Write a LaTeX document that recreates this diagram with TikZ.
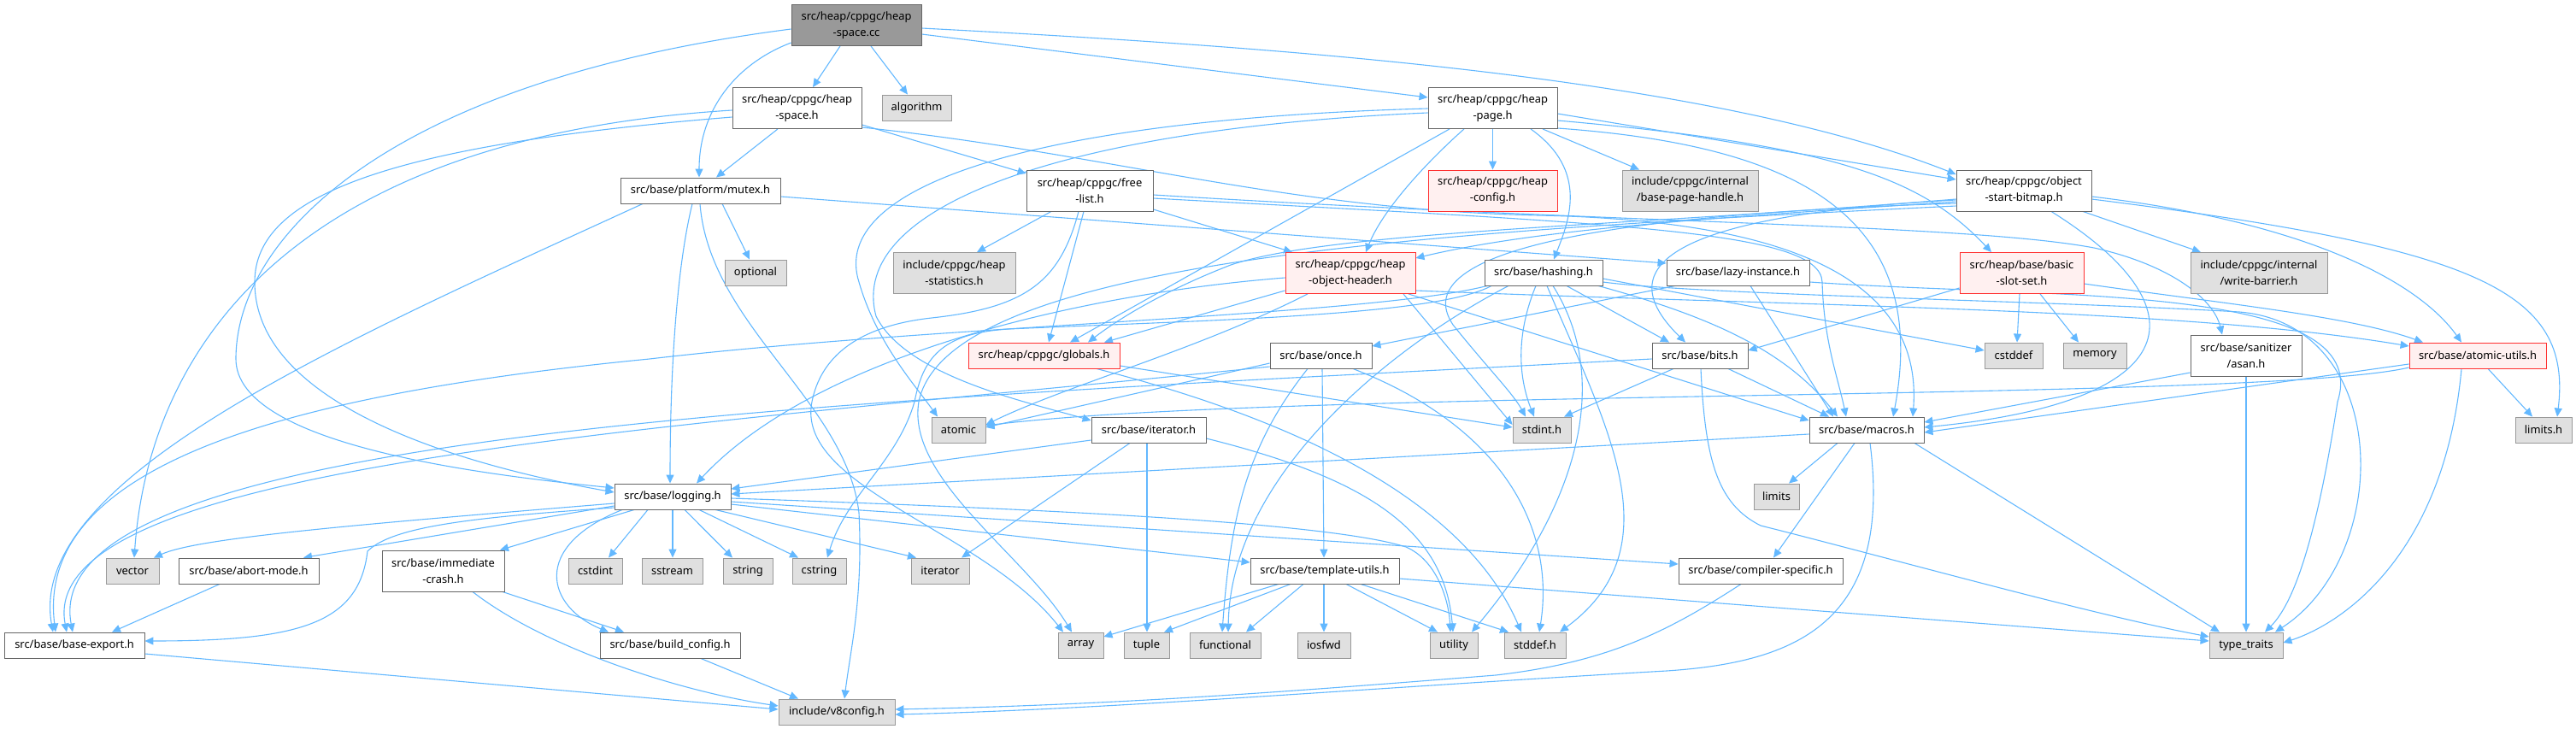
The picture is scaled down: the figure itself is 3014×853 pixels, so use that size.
\documentclass[tikz,border=0pt]{standalone}
\usepackage{fontspec}
\setmainfont{Noto Sans}
\usetikzlibrary{arrows.meta}
\definecolor{edgeblue}{HTML}{63B8FF}
\definecolor{boxline}{HTML}{666666}
\definecolor{sysline}{HTML}{999999}
\definecolor{sysfill}{HTML}{E0E0E0}
\definecolor{cutline}{HTML}{FF3030}
\definecolor{cutfill}{HTML}{FFF0F0}
\definecolor{rootfill}{HTML}{999999}
\pgfdeclarelayer{edges}
\pgfsetlayers{edges,main}
\tikzset{
  hdr/.style={draw=boxline, fill=white, line width=0.9pt, inner sep=0pt,
    minimum height=30pt, align=center, font=\fontsize{12.9}{19}\selectfont},
  two/.style={minimum height=48pt},
  sys/.style={hdr, draw=sysline, fill=sysfill},
  cut/.style={hdr, draw=cutline, fill=cutfill},
  root/.style={hdr, fill=rootfill},
  inc/.style={draw=edgeblue, line width=1.1pt, -{Triangle[length=10pt,width=9pt]}},
}

\begin{document}
\begin{tikzpicture}[x=1pt,y=-1pt]
\useasboundingbox (0,0) rectangle (3014,853);
%
\node[root, two, minimum width=152] (cc) at (1002,29.5) {src/heap/cppgc/heap\\-space.cc};
%
\node[hdr, two, minimum width=151] (hsh) at (932.5,126.5) {src/heap/cppgc/heap\\-space.h};
\node[sys, minimum width=81] (alg) at (1072.5,126) {algorithm};
\node[hdr, two, minimum width=151] (hpg) at (1746.5,126.5) {src/heap/cppgc/heap\\-page.h};
%
\node[hdr, minimum width=187] (mtx) at (819.5,223) {src/base/platform/mutex.h};
\node[hdr, two, minimum width=148] (fl) at (1275,223) {src/heap/cppgc/free\\-list.h};
\node[cut, two, minimum width=151] (hcf) at (1746.5,223) {src/heap/cppgc/heap\\-config.h};
\node[sys, two, minimum width=159] (bph) at (1977.5,223) {include/cppgc/internal\\/base-page-handle.h};
\node[hdr, two, minimum width=158] (osb) at (2368,223) {src/heap/cppgc/object\\-start-bitmap.h};
%
\node[sys, minimum width=72] (opt) at (884,319) {optional};
\node[sys, two, minimum width=143] (hst) at (1116.5,319.5) {include/cppgc/heap\\-statistics.h};
\node[cut, two, minimum width=152] (ohd) at (1580,319.5) {src/heap/cppgc/heap\\-object-header.h};
\node[hdr, minimum width=138] (hsg) at (1806,319) {src/base/hashing.h};
\node[hdr, minimum width=167] (lzy) at (2033.5,319) {src/base/lazy-instance.h};
\node[cut, two, minimum width=145] (bss) at (2365.5,319.5) {src/heap/base/basic\\-slot-set.h};
\node[sys, two, minimum width=160] (wb) at (2643,319.5) {include/cppgc/internal\\/write-barrier.h};
%
\node[cut, minimum width=177] (glb) at (1221.5,416) {src/heap/cppgc/globals.h};
\node[hdr, minimum width=119] (once) at (1545.5,416) {src/base/once.h};
\node[hdr, minimum width=112] (bits) at (1989,416) {src/base/bits.h};
\node[sys, minimum width=68] (cstddef) at (2356,416) {cstddef};
\node[sys, minimum width=74] (memory) at (2451,416) {memory};
\node[hdr, two, minimum width=130] (asan) at (2628,416) {src/base/sanitizer\\/asan.h};
\node[cut, minimum width=160] (atu) at (2899,416) {src/base/atomic-utils.h};
%
\node[sys, minimum width=63] (atomic) at (1121.5,503) {atomic};
\node[hdr, minimum width=134] (ith) at (1344,503) {src/base/iterator.h};
\node[sys, minimum width=68] (stdint) at (1804,503) {stdint.h};
\node[hdr, minimum width=134] (mac) at (2184,503) {src/base/macros.h};
\node[sys, minimum width=66] (limh) at (2976,503) {limits.h};
%
\node[hdr, minimum width=136] (log) at (787,581) {src/base/logging.h};
\node[sys, minimum width=53] (lim) at (2078.5,581) {limits};
%
\node[sys, minimum width=62] (vec) at (155,668) {vector};
\node[hdr, minimum width=164] (abm) at (291,668) {src/base/abort-mode.h};
\node[hdr, two, minimum width=143] (imc) at (518.5,668) {src/base/immediate\\-crash.h};
\node[sys, minimum width=63] (cstdint) at (696.5,668) {cstdint};
\node[sys, minimum width=71] (sstream) at (786.5,668) {sstream};
\node[sys, minimum width=58] (string) at (875,668) {string};
\node[sys, minimum width=63] (cstring) at (958.5,668) {cstring};
\node[sys, minimum width=68] (iter) at (1100,668) {iterator};
\node[hdr, minimum width=174] (tpl) at (1550,668) {src/base/template-utils.h};
\node[hdr, minimum width=192] (csp) at (2060,668) {src/base/compiler-specific.h};
%
\node[hdr, minimum width=164] (bex) at (87,755) {src/base/base-export.h};
\node[hdr, minimum width=164] (bcf) at (784,755) {src/base/build\_config.h};
\node[sys, minimum width=53] (arr) at (1264.5,755) {array};
\node[sys, minimum width=53] (tup) at (1341.5,755) {tuple};
\node[sys, minimum width=83] (fun) at (1433.5,755) {functional};
\node[sys, minimum width=62] (iosfwd) at (1549,755) {iosfwd};
\node[sys, minimum width=56] (util) at (1701,755) {utility};
\node[sys, minimum width=72] (stddef) at (1796,755) {stddef.h};
\node[sys, minimum width=86] (tt) at (2628,755) {type\_traits};
%
\node[sys, minimum width=136] (v8c) at (979,833) {include/v8config.h};
%
\begin{pgfonlayer}{edges}
% heap-space.cc
\draw[inc] (cc.south -| 983,0) -- (hsh.north -| 951,0);
\draw[inc] (cc.south -| 1019,0) -- (alg.north -| 1062,0);
\draw[inc] (cc.west |- 0,50) .. controls (860,75) and (818,130) .. (mtx.north -| 818,0);
\draw[inc] (cc.west |- 0,34) .. controls (450,95) and (276,280) .. (276,420) .. controls (276,520) and (560,555) .. (log.west |- 0,571);
\draw[inc] (cc.east |- 0,40) -- (hpg.west |- 0,114);
\draw[inc] (cc.east |- 0,33) .. controls (1500,55) and (2000,90) .. (osb.west |- 0,204);
% heap-space.h
\draw[inc] (hsh.south -| 910,0) -- (mtx.north -| 838,0);
\draw[inc] (hsh.east |- 0,146) -- (fl.west |- 0,203);
\draw[inc] (hsh.east |- 0,149) .. controls (1300,180) and (1500,245) .. (1800,252) .. controls (2100,258) and (2250,330) .. (mac.north -| 2238,0);
\draw[inc] (hsh.west |- 0,137) .. controls (450,170) and (298,230) .. (298,330) .. controls (298,480) and (560,548) .. (log.west |- 0,576);
\draw[inc] (hsh.west |- 0,129) .. controls (350,160) and (175,400) .. (vec.north -| 157,0);
% mutex.h
\draw[inc] (mtx.south -| 845,0) -- (opt.north -| 877,0);
\draw[inc] (mtx.south -| 810,0) .. controls (790,320) and (784,450) .. (log.north -| 784,0);
\draw[inc] (mtx.south -| 819,0) .. controls (830,380) and (990,470) .. (1005,600) .. controls (1010,700) and (995,760) .. (v8c.north -| 988,0);
\draw[inc] (mtx.south -| 752,0) .. controls (400,400) and (30,560) .. (bex.north -| 62,0);
\draw[inc] (mtx.east |- 0,230) -- (lzy.west |- 0,308);
% free-list.h
\draw[inc] (fl.south -| 1230,0) -- (hst.north -| 1143,0);
\draw[inc] (fl.south -| 1268,0) -- (glb.north -| 1227,0);
\draw[inc] (fl.south -| 1262,0) .. controls (1240,330) and (1200,360) .. (1090,372) .. controls (1000,382) and (960,420) .. (950,470) .. controls (930,570) and (1150,620) .. (arr.north -| 1244,0);
\draw[inc] (fl.east |- 0,245) -- (ohd.north -| 1512,0);
\draw[inc] (fl.east |- 0,232) .. controls (1900,262) and (2130,270) .. (2132,330) .. controls (2134,400) and (2150,440) .. (mac.north -| 2160,0);
\draw[inc] (fl.east |- 0,228) .. controls (1900,262) and (2300,262) .. (2450,290) .. controls (2540,310) and (2590,350) .. (asan.north -| 2600,0);
% heap-page.h
\draw[inc] (hpg.south) -- (hcf.north);
\draw[inc] (hpg.south -| 1805,0) -- (bph.north -| 1918,0);
\draw[inc] (hpg.south -| 1791,0) .. controls (1860,200) and (1835,260) .. (hsg.north -| 1818,0);
\draw[inc] (hpg.south -| 1713,0) .. controls (1680,180) and (1620,240) .. (ohd.north -| 1598,0);
\draw[inc] (hpg.south -| 1696,0) -- (glb.north -| 1252,0);
\draw[inc] (hpg.west |- 0,127) .. controls (1200,140) and (970,220) .. (1005,330) .. controls (1025,400) and (1070,450) .. (atomic.north -| 1097,0);
\draw[inc] (hpg.west |- 0,132) .. controls (1250,150) and (990,240) .. (1025,370) .. controls (1060,440) and (1200,470) .. (ith.west |- 0,492);
\draw[inc] (hpg.east |- 0,150) .. controls (2100,170) and (2260,250) .. (mac.north -| 2215,0);
\draw[inc] (hpg.east |- 0,141) .. controls (2150,170) and (2250,210) .. (bss.north -| 2330,0);
\draw[inc] (hpg.east |- 0,133) -- (osb.west |- 0,210);
% object-start-bitmap.h
\draw[inc] (osb.west |- 0,236) .. controls (2000,255) and (1800,268) .. (ohd.east |- 0,302);
\draw[inc] (osb.west |- 0,233) .. controls (1900,265) and (1560,270) .. (1440,310) .. controls (1350,345) and (1300,380) .. (glb.north -| 1273,0);
\draw[inc] (osb.west |- 0,238) .. controls (1900,250) and (1640,290) .. (1700,380) .. controls (1740,430) and (1770,460) .. (stdint.north -| 1785,0);
\draw[inc] (osb.west |- 0,234) .. controls (1900,255) and (1900,330) .. (bits.north -| 1972,0);
\draw[inc] (osb.west |- 0,241) .. controls (1700,270) and (1110,300) .. (1075,470) .. controls (1060,560) and (1200,650) .. (arr.north -| 1254,0);
\draw[inc] (osb.south -| 2437,0) -- (wb.north -| 2575,0);
\draw[inc] (osb.east |- 0,230) .. controls (2700,260) and (2830,330) .. (atu.north -| 2880,0);
\draw[inc] (osb.east |- 0,233) .. controls (2900,290) and (3010,340) .. (limh.north -| 2992,0);
\draw[inc] (osb.south -| 2400,0) .. controls (2580,360) and (2560,470) .. (mac.east |- 0,500);
% heap-object-header.h
\draw[inc] (ohd.west |- 0,340) -- (glb.north -| 1292,0);
\draw[inc] (ohd.south -| 1530,0) .. controls (1400,410) and (1250,450) .. (atomic.east |- 0,497);
\draw[inc] (ohd.south -| 1642,0) -- (stdint.west |- 0,497);
\draw[inc] (ohd.south -| 1648,0) -- (mac.west |- 0,492);
\draw[inc] (ohd.west |- 0,325) .. controls (1250,345) and (950,420) .. (log.north -| 815,0);
\draw[inc] (ohd.east |- 0,340) .. controls (2100,358) and (2550,360) .. (atu.west |- 0,405);
% hashing.h
\draw[inc] (hsg.south -| 1797,0) .. controls (1770,400) and (1780,450) .. (stdint.north -| 1795,0);
\draw[inc] (hsg.south -| 1833,0) -- (bits.north -| 1953,0);
\draw[inc] (hsg.south -| 1810,0) .. controls (1880,500) and (1960,640) .. (stddef.north -| 1825,0);
\draw[inc] (hsg.south -| 1817,0) .. controls (1890,450) and (1840,600) .. (util.north -| 1722,0);
\draw[inc] (hsg.south -| 1765,0) .. controls (1620,410) and (1440,560) .. (fun.north -| 1437,0);
\draw[inc] (hsg.south -| 1745,0) .. controls (1680,370) and (1400,375) .. (1180,385) .. controls (1100,390) and (1080,420) .. (1070,470) .. controls (1050,540) and (990,580) .. (cstring.north -| 968,0);
\draw[inc] (hsg.south -| 1740,0) .. controls (1600,370) and (1100,380) .. (760,420) .. controls (350,460) and (40,540) .. (bex.north -| 65,0);
\draw[inc] (hsg.south -| 1870,0) .. controls (2000,370) and (2090,410) .. (mac.north -| 2150,0);
\draw[inc] (hsg.east |- 0,326) -- (cstddef.west |- 0,410);
\draw[inc] (hsg.east |- 0,330) .. controls (1990,345) and (2400,352) .. (2620,365) .. controls (2800,380) and (2800,650) .. (tt.north -| 2662,0);
% lazy-instance.h
\draw[inc] (lzy.south -| 1960,0) -- (once.east |- 0,405);
\draw[inc] (lzy.south -| 2048,0) -- (mac.north -| 2145,0);
\draw[inc] (lzy.east |- 0,330) .. controls (2400,350) and (2780,330) .. (2735,470) .. controls (2715,600) and (2690,700) .. (tt.north -| 2650,0);
% once.h
\draw[inc] (once.west |- 0,425) -- (atomic.east |- 0,500);
\draw[inc] (once.west |- 0,429) .. controls (800,500) and (40,540) .. (bex.north -| 78,0);
\draw[inc] (once.south -| 1583,0) .. controls (1760,500) and (1820,620) .. (stddef.north -| 1801,0);
\draw[inc] (once.south -| 1530,0) .. controls (1460,520) and (1440,600) .. (fun.north -| 1430,0);
\draw[inc] (once.south -| 1547,0) -- (tpl.north -| 1549,0);
% bits.h
\draw[inc] (bits.south -| 1958,0) -- (stdint.north -| 1830,0);
\draw[inc] (bits.south -| 2022,0) -- (mac.north -| 2140,0);
\draw[inc] (bits.south -| 1990,0) .. controls (1995,540) and (2010,590) .. (2060,615) .. controls (2200,650) and (2450,720) .. (tt.west |- 0,745);
\draw[inc] (bits.west |- 0,420) .. controls (1000,470) and (40,500) .. (bex.north -| 85,0);
% basic-slot-set.h
\draw[inc] (bss.south -| 2363,0) -- (cstddef.north -| 2360,0);
\draw[inc] (bss.south -| 2387,0) -- (memory.north -| 2432,0);
\draw[inc] (bss.west |- 0,337) -- (bits.east |- 0,410);
\draw[inc] (bss.east |- 0,332) .. controls (2600,355) and (2750,370) .. (atu.north -| 2835,0);
% asan.h, atomic-utils.h
\draw[inc] (asan.west |- 0,436) -- (mac.east |- 0,494);
\draw[inc] (asan.south) -- (tt.north);
\draw[inc] (atu.south -| 2911,0) -- (limh.north -| 2963,0);
\draw[inc] (atu.west |- 0,426) -- (mac.east |- 0,506);
\draw[inc] (atu.west |- 0,430) .. controls (2650,470) and (1500,455) .. (atomic.east |- 0,498);
\draw[inc] (atu.south -| 2880,0) .. controls (2860,650) and (2740,730) .. (tt.east |- 0,752);
% macros.h
\draw[inc] (mac.south -| 2150,0) -- (lim.north -| 2093,0);
\draw[inc] (mac.south -| 2170,0) -- (csp.north -| 2075,0);
\draw[inc] (mac.south -| 2240,0) -- (tt.north -| 2597,0);
\draw[inc] (mac.south -| 2188,0) .. controls (2215,730) and (2100,775) .. (1950,785) .. controls (1600,805) and (1300,830) .. (v8c.east |- 0,836);
\draw[inc] (mac.west |- 0,508) -- (log.east |- 0,578);
\draw[inc] (csp.south -| 2037,0) .. controls (1950,740) and (1880,775) .. (1750,790) .. controls (1500,810) and (1300,825) .. (v8c.east |- 0,830);
% template-utils.h
\draw[inc] (tpl.south -| 1496,0) -- (arr.east |- 0,745);
\draw[inc] (tpl.south -| 1510,0) -- (tup.north -| 1362,0);
\draw[inc] (tpl.south -| 1525,0) -- (fun.north -| 1458,0);
\draw[inc] (tpl.south -| 1549,0) -- (iosfwd.north);
\draw[inc] (tpl.south -| 1575,0) -- (util.north -| 1682,0);
\draw[inc] (tpl.south -| 1592,0) -- (stddef.north -| 1765,0);
\draw[inc] (tpl.east |- 0,677) -- (tt.west |- 0,750);
% iterator.h
\draw[inc] (ith.south -| 1322,0) -- (iter.north -| 1125,0);
\draw[inc] (ith.south -| 1342,0) -- (tup.north -| 1342,0);
\draw[inc] (ith.west |- 0,515) -- (log.east |- 0,572);
\draw[inc] (ith.east |- 0,513) .. controls (1600,560) and (1690,620) .. (util.north -| 1700,0);
% logging.h
\draw[inc] (log.west |- 0,589) .. controls (400,615) and (230,630) .. (vec.north -| 180,0);
\draw[inc] (log.west |- 0,592) -- (abm.north -| 355,0);
\draw[inc] (log.west |- 0,594) .. controls (560,605) and (460,615) .. (430,645) .. controls (420,730) and (350,750) .. (bex.east |- 0,750);
\draw[inc] (log.south -| 742,0) -- (imc.north -| 585,0);
\draw[inc] (log.south -| 758,0) -- (cstdint.north -| 712,0);
\draw[inc] (log.south -| 787,0) -- (sstream.north -| 787,0);
\draw[inc] (log.south -| 801,0) -- (string.north -| 857,0);
\draw[inc] (log.south -| 818,0) -- (cstring.north -| 934,0);
\draw[inc] (log.south -| 837,0) -- (iter.north -| 1072,0);
\draw[inc] (log.east |- 0,590) -- (tpl.west |- 0,658);
\draw[inc] (log.east |- 0,587) -- (csp.west |- 0,660);
\draw[inc] (log.east |- 0,583) .. controls (1200,595) and (1550,610) .. (1645,640) .. controls (1680,655) and (1695,700) .. (util.north -| 1697,0);
\draw[inc] (log.south -| 728,0) .. controls (620,640) and (640,710) .. (bcf.north -| 712,0);
% bottom rows
\draw[inc] (imc.south -| 588,0) -- (bcf.north -| 730,0);
\draw[inc] (imc.south -| 553,0) .. controls (640,760) and (800,810) .. (v8c.west |- 0,826);
\draw[inc] (abm.south -| 257,0) -- (bex.north -| 131,0);
\draw[inc] (bex.east |- 0,765) -- (v8c.west |- 0,830);
\draw[inc] (bcf.south -| 820,0) -- (v8c.north -| 934,0);
% globals.h
\draw[inc] (glb.east |- 0,428) -- (stdint.west |- 0,500);
\draw[inc] (glb.south -| 1283,0) .. controls (1550,500) and (1720,600) .. (stddef.north -| 1780,0);
\end{pgfonlayer}
\end{tikzpicture}
\end{document}
